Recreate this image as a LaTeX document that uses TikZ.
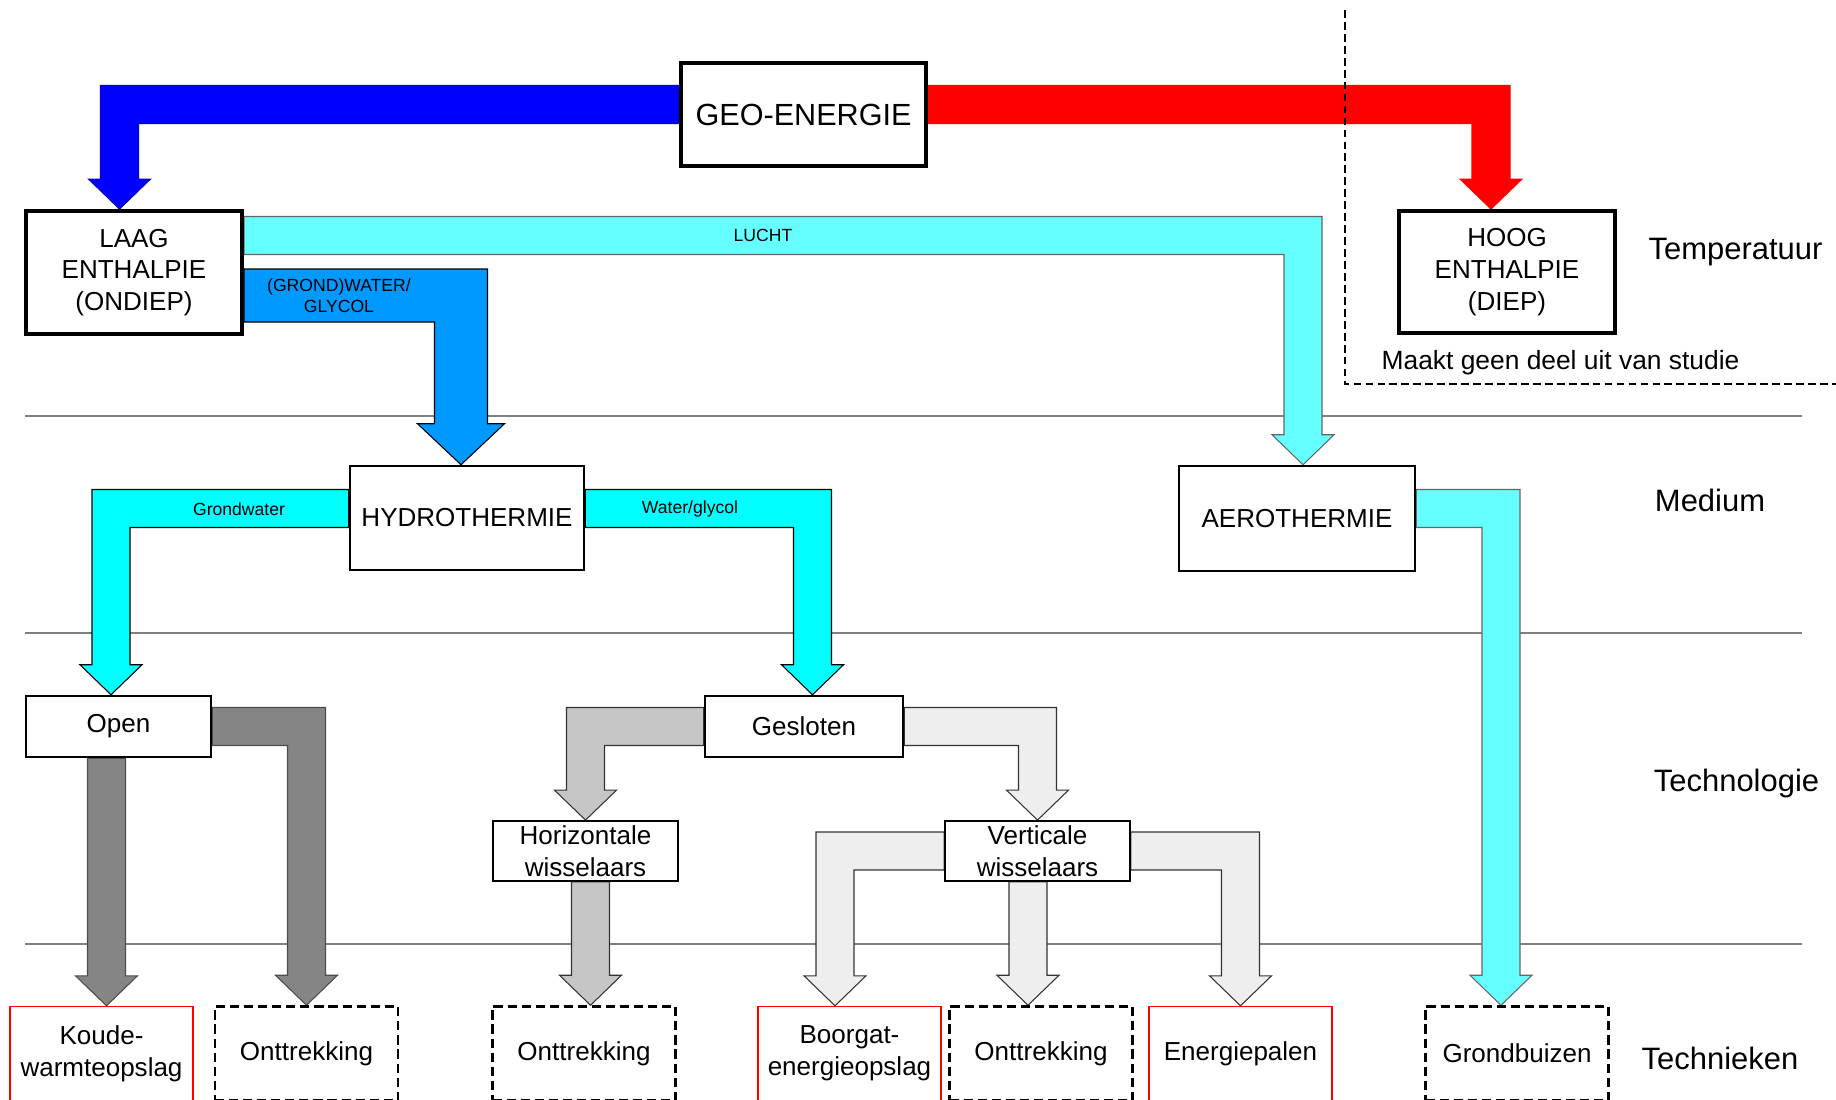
\documentclass[tikz,border=0pt]{standalone}
\usepackage{fontspec}
\setmainfont{Liberation Sans}
\usetikzlibrary{calc,backgrounds}

\definecolor{geoblue}{HTML}{0000FF}
\definecolor{geored}{HTML}{FF0000}
\definecolor{luchtcyan}{HTML}{66FFFF}
\definecolor{grondblue}{HTML}{0099FF}
\definecolor{watercyan}{HTML}{00FFFF}
\definecolor{opengray}{HTML}{858585}
\definecolor{horizgray}{HTML}{C6C6C6}
\definecolor{vertgray}{HTML}{EEEEEE}

\tikzset{
  bigbox/.style={draw, line width=1.1pt, fill=white, inner sep=0pt, align=center, font=\fontsize{7.4}{9}\selectfont},
  box/.style={draw, line width=0.7pt, fill=white, inner sep=0pt, align=center, font=\fontsize{7.4}{9}\selectfont},
  smallbox/.style={draw, line width=0.5pt, fill=white, inner sep=0pt, align=center, font=\fontsize{7.4}{9}\selectfont, minimum width=1.85cm, minimum height=0.6cm},
  techbox/.style={draw=geored, line width=0.4pt, fill=white, inner sep=0pt, align=center, font=\fontsize{7.4}{9}\selectfont, minimum width=1.83cm, minimum height=0.94cm},
  dashbox/.style={draw, dashed, dash pattern=on 2.6pt off 1.4pt, line width=0.7pt, fill=white, inner sep=0pt, align=center, font=\fontsize{7.4}{9}\selectfont, minimum width=1.83cm, minimum height=0.94cm},
  bandlabel/.style={inner sep=0pt, align=center, font=\fontsize{5}{6}\selectfont},
  sidelabel/.style={inner sep=0pt, font=\fontsize{8.8}{10}\selectfont},
  layerline/.style={draw=black!50, line width=0.4pt},
  studyline/.style={draw, dashed, dash pattern=on 2.2pt off 1.2pt, line width=0.55pt},
  geoarrow/.style={fill=geoblue, draw=geoblue!80!black, line width=0.3pt},
  redarrow/.style={fill=geored, draw=geored, line width=0.3pt},
  luchtarrow/.style={fill=luchtcyan, draw=black!60, line width=0.3pt},
  grondarrow/.style={fill=grondblue, draw=black, line width=0.3pt},
  waterarrow/.style={fill=watercyan, draw=black, line width=0.3pt},
  openarrow/.style={fill=opengray, draw=black!70, line width=0.3pt},
  horizarrow/.style={fill=horizgray, draw=black!80, line width=0.3pt},
  vertarrow/.style={fill=vertgray, draw=black!80, line width=0.3pt}
}

\newcommand{\bandwidth}{19}
\newcommand{\headwidth}{31}
\newcommand{\headlength}{30}

\newcommand{\elbowarrow}[4]{%
  \coordinate (es) at (#2);
  \coordinate (et) at (#3);
  \filldraw[#1] ($(es)+(0,-\bandwidth)$) -- ($(es -| et)+({(#4)*\bandwidth},-\bandwidth)$)
    -- ($(et)+({(#4)*\bandwidth},-\headlength)$) -- ($(et)+({(#4)*\headwidth},-\headlength)$)
    -- (et) -- ($(et)+({-(#4)*\headwidth},-\headlength)$) -- ($(et)+({-(#4)*\bandwidth},-\headlength)$)
    -- ($(es -| et)+({-(#4)*\bandwidth},\bandwidth)$) -- ($(es)+(0,\bandwidth)$) -- cycle;}

\newcommand{\shaftarrow}[3]{%
  \coordinate (ss) at (#2);
  \coordinate (st) at (#3);
  \filldraw[#1] ($(st |- ss)+(-\bandwidth,0)$) -- ($(st)+(-\bandwidth,-\headlength)$)
    -- ($(st)+(-\headwidth,-\headlength)$) -- (st) -- ($(st)+(\headwidth,-\headlength)$)
    -- ($(st)+(\bandwidth,-\headlength)$) -- ($(st |- ss)+(\bandwidth,0)$) -- cycle;}

\begin{document}
\begin{tikzpicture}[x=0.01cm, y=-0.01cm]
\useasboundingbox (0, 0) rectangle (1836, 1099);

\draw (803.5, 114.5) node[bigbox, minimum width=2.45cm, minimum height=1.03cm, font=\fontsize{8.7}{10}\selectfont] (geo) {GEO-ENERGIE};
\draw (134, 272.5) node[bigbox, minimum width=2.16cm, minimum height=1.23cm] (laag) {LAAG\\ENTHALPIE\\(ONDIEP)};
\draw (1507, 272) node[bigbox, minimum width=2.16cm, minimum height=1.22cm] (hoog) {HOOG\\ENTHALPIE\\(DIEP)};

\draw (467, 518) node[box, minimum width=2.34cm, minimum height=1.04cm] (hydro) {HYDROTHERMIE};
\draw (1297, 518.5) node[box, minimum width=2.36cm, minimum height=1.05cm] (aero) {AEROTHERMIE};

\draw (118.5, 726.5) node[box, minimum width=1.85cm, minimum height=0.61cm] (open) {Open};
\draw (804, 726.5) node[box, minimum width=1.98cm, minimum height=0.61cm] (gesl) {Gesloten};
\draw (585.5, 851) node[smallbox] (horiz) {Horizontale\\wisselaars};
\draw (1037.5, 851) node[smallbox] (vert) {Verticale\\wisselaars};

\draw (101.5, 1053.5) node[techbox] (koude) {Koude-\\warmteopslag};
\draw (306.5, 1053.5) node[dashbox] (ontt1) {Onttrekking};
\draw (584, 1053.5) node[dashbox] (ontt2) {Onttrekking};
\draw (849.5, 1053.5) node[techbox] (boorgat) {Boorgat-\\energieopslag};
\draw (1041, 1053.5) node[dashbox] (ontt3) {Onttrekking};
\draw (1240.5, 1053.5) node[techbox] (energ) {Energiepalen};
\draw (1517, 1053.5) node[dashbox] (grondb) {Grondbuizen};

\draw (1735.5, 252) node[sidelabel] (temp) {Temperatuur};
\draw (1710, 500) node[sidelabel] (medium) {Medium};
\draw (1736.5, 783) node[sidelabel] (techno) {Technologie};
\draw (1720, 1058) node[sidelabel] (techn) {Technieken};
\draw (1560.5, 363) node[inner sep=0pt, font=\fontsize{7.5}{9}\selectfont] (studie) {Maakt geen deel uit van studie};

\begin{scope}[on background layer]
\draw[layerline] (25, 416) -- (1802, 416);
\draw[layerline] (25, 633) -- (1802, 633);
\draw[layerline] (25, 944) -- (1802, 944);

\elbowarrow{geoarrow}{$(geo.west)+(0,-10)$}{$(laag.north)+(-14.5,0)$}{-1}
\elbowarrow{redarrow}{$(geo.east)+(0,-10)$}{$(hoog.north)+(-16,0)$}{1}
\elbowarrow{luchtarrow}{$(laag.east)+(0,-37)$}{$(aero.north)+(6,0)$}{1}
\begin{scope}
\renewcommand{\bandwidth}{26.5}
\renewcommand{\headwidth}{43.5}
\renewcommand{\headlength}{41}
\elbowarrow{grondarrow}{$(laag.east)+(0,23)$}{$(hydro.north)+(-6,0)$}{1}
\end{scope}
\elbowarrow{waterarrow}{$(hydro.west)+(0,-9.5)$}{$(open.north)+(-7.5,0)$}{-1}
\elbowarrow{waterarrow}{$(hydro.east)+(0,-9.5)$}{$(gesl.north)+(8.5,0)$}{1}
\elbowarrow{luchtarrow}{$(aero.east)+(0,-10)$}{$(grondb.north)+(-16,0)$}{1}

\shaftarrow{openarrow}{open.south}{$(koude.north)+(5,0)$}
\elbowarrow{openarrow}{open.east}{ontt1.north}{1}
\elbowarrow{horizarrow}{gesl.west}{horiz.north}{-1}
\shaftarrow{horizarrow}{horiz.south}{$(ontt2.north)+(6.5,0)$}
\elbowarrow{vertarrow}{gesl.east}{vert.north}{1}
\elbowarrow{vertarrow}{vert.west}{$(boorgat.north)+(-14.5,0)$}{-1}
\shaftarrow{vertarrow}{vert.south}{$(ontt3.north)+(-13,0)$}
\elbowarrow{vertarrow}{vert.east}{energ.north}{1}
\end{scope}

\draw (763, 235) node[bandlabel] (lucht) {LUCHT};
\draw (339, 295.5) node[bandlabel] (grondwater) {(GROND)WATER/\\GLYCOL};
\draw (239, 509) node[bandlabel] (grondw) {Grondwater};
\draw (690, 509) node[bandlabel] (waterglycol) {Water/glycol};

\draw[studyline] (1345, 10) -- (1345, 384) -- (1836, 384);

\end{tikzpicture}
\end{document}
